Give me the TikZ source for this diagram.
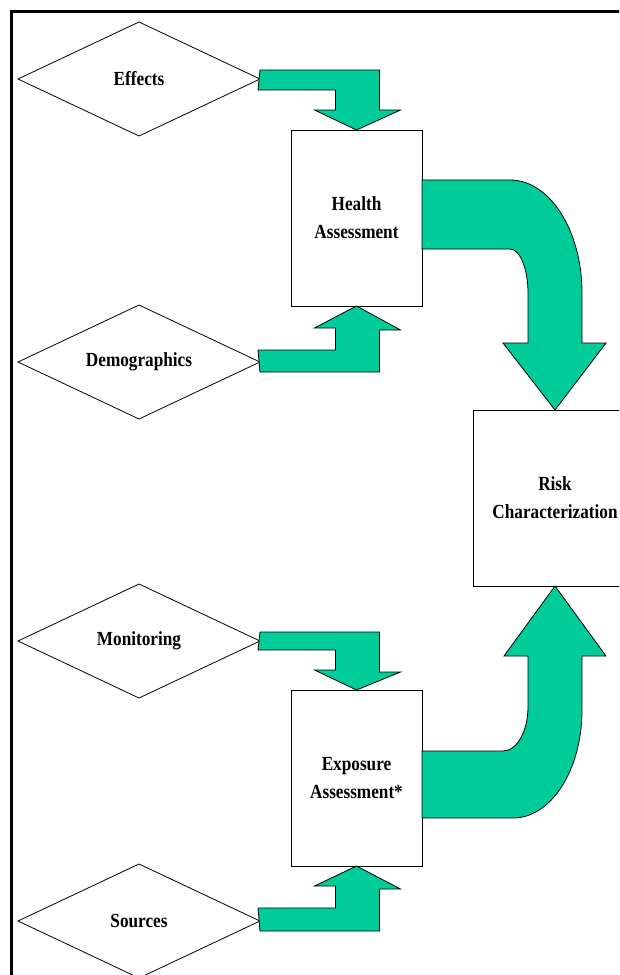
\documentclass[tikz,border=0pt]{standalone}
\usepackage{fontspec}
\usepackage{tikz}
\usetikzlibrary{positioning, shapes.geometric}
\newfontfamily\diafont{Liberation Serif}[FakeStretch=0.86]
\definecolor{blkgreen}{RGB}{0,204,153}

\begin{document}
\begin{tikzpicture}[
    x=1pt, y=-1pt,
    txt/.style={font=\diafont\bfseries\fontsize{20}{28}\selectfont, align=center},
    dia/.style={draw, line width=0.8pt, diamond, aspect=2.12, minimum width=242pt, minimum height=114pt, inner sep=0pt, outer sep=0pt, txt},
    box/.style={draw, line width=1pt, fill=white, minimum width=131pt, minimum height=176pt, inner sep=0pt, outer sep=0pt, txt},
    blk/.style={draw, line width=0.8pt, fill=blkgreen, line join=miter}
  ]
    \useasboundingbox (0,0) rectangle (619,975);
    \clip (0,0) rectangle (619,975);
    \fill[white] (0,0) rectangle (619,975);
    \draw[line width=2.6pt] (11.3,1100) -- (11.3,11.3) -- (700,11.3);

    % inputs
    \node[dia] at (139,79) (eff) {Effects};
    \node[dia, below=169pt of eff] (dem) {Demographics};
    \node[dia, below=165pt of dem] (mon) {Monitoring};
    \node[dia, below=166pt of mon] (src) {Sources};

    % assessments
    \node[box] at (356.5,218) (hea) {Health\\Assessment};
    \node[box, below=384pt of hea] (exp) {Exposure\\Assessment*};
    \node[box, minimum width=164pt] at (555,498) (risk) {Risk\\Characterization};

    % block arrows into the boxes
    \draw[blk] (eff.east) ++(0,-9) -- ++(119.5,0) -- ++(0,40) -- ++(21,0) -- (hea.north)
      -- ++(-42,-20) -- ++(21,0) -- ++(0,-20) -- ++(-77.5,0) -- cycle;
    \draw[blk] (dem.east) ++(0,10) -- ++(119.5,0) -- ++(0,-42) -- ++(21,0) -- (hea.south)
      -- ++(-42,22) -- ++(21,0) -- ++(0,22) -- ++(-77.5,0) -- cycle;
    \draw[blk] (mon.east) ++(0,-9) -- ++(119.5,0) -- ++(0,40) -- ++(21,0) -- (exp.north)
      -- ++(-42,-20) -- ++(21,0) -- ++(0,-20) -- ++(-77.5,0) -- cycle;
    \draw[blk] (src.east) ++(0,10) -- ++(119.5,0) -- ++(0,-42) -- ++(21,0) -- (exp.south)
      -- ++(-42,20) -- ++(21,0) -- ++(0,22) -- ++(-77.5,0) -- cycle;

    % curved arrows to risk characterization
    \draw[blk] (hea.east) ++(0,-38) -- (510,180) .. controls (550,180) and (582,231) .. (582,293)
      -- (582,343) -- (606,343) -- (risk.north) -- (503,343) -- (528,343) -- (528,293)
      .. controls (528,269) and (520,249) .. (510,249) -- (hea.east |- 0,249) -- cycle;
    \draw[blk] (exp.east) ++(0,-27) -- (503,751) .. controls (517,751) and (528,731) .. (528,707)
      -- (528,656) -- (504,656) -- (risk.south) -- (606,656) -- (582,656) -- (582,710)
      .. controls (582,770) and (551,818) .. (513,818) -- (exp.east |- 0,818) -- cycle;
  \end{tikzpicture}
\end{document}
